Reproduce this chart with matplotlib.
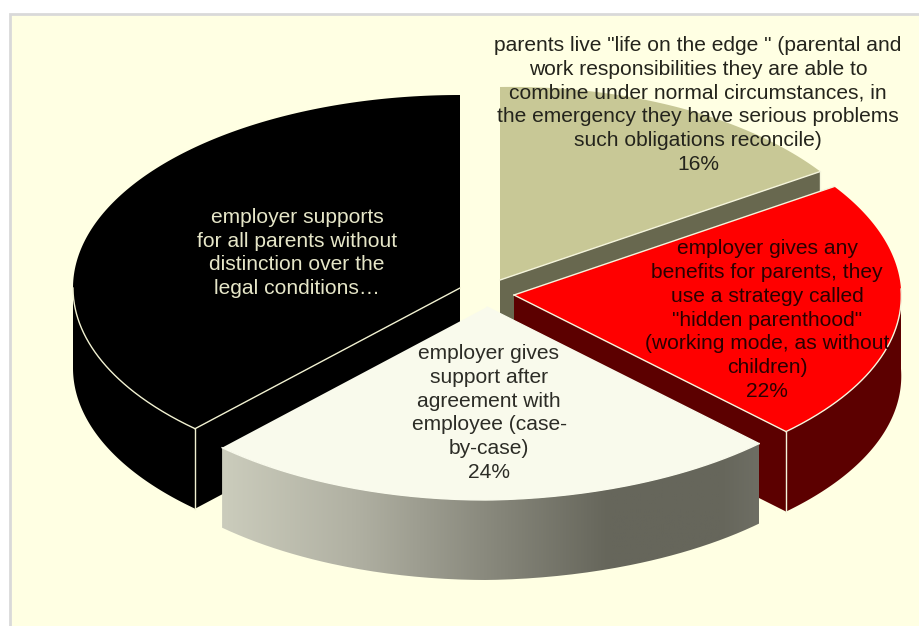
import numpy as np
import matplotlib
matplotlib.use("Agg")
import matplotlib.pyplot as plt
from matplotlib.colors import LinearSegmentedColormap
from matplotlib.patches import PathPatch, Polygon, Rectangle
from matplotlib.path import Path

plt.rcParams["font.family"] = ["Liberation Sans", "DejaVu Sans"]

# survey answers, clockwise from 12 o'clock
labels = [
    'parents live "life on the edge " (parental and\n'
    "work responsibilities they are able to\n"
    "combine under normal circumstances, in\n"
    "the emergency they have serious problems\n"
    "such obligations reconcile)\n16%",
    "employer gives any\nbenefits for parents, they\nuse a strategy called\n"
    '"hidden parenthood"\n(working mode, as without\nchildren)\n22%',
    "employer gives\nsupport after\nagreement with\nemployee (case-\nby-case)\n24%",
    "employer supports\nfor all parents without\ndistinction over the\nlegal conditions\u2026",
]
shares = [16, 22, 24, 38]

top_colors = ["#c8c896", "#ff0000", "#f9faec", "#000000"]
wall_colors = ["#68684f", "#5c0000", None, "#000000"]
edge_colors = ["#f5f5dc", "#f5f5dc", "#f9faec", "#f0f0d0"]
text_colors = ["#24241c", "#2a0000", "#2c2c26", "#e6e6c8"]

# each slice is pulled away from the middle on its own
apex_x = [500, 514, 487, 460]
apex_y = [280, 295, 307, 288]
label_x = [698, 767, 489, 297]
label_y = [105, 320, 413, 253]

RX, RY = 387, 193
DEPTH = 80
# right side of the disc comes slightly towards the viewer
PERSP = 0.037
TILT = 6.0
draw_order = [0, 3, 1, 2]


def rim(cx, cy, deg):
    t = np.radians(np.atleast_1d(deg))
    u, v = np.sin(t), -np.cos(t)
    right = u > 0
    xs = cx + RX * u * np.where(right, 1 + PERSP * v, 1.0)
    ys = cy + RY * v - np.where(right, TILT * u, 0.0)
    return np.column_stack([xs, ys])


def drop(pts):
    return pts + np.array([0, DEPTH])


def gradient_wall(ax, poly, z):
    cmap = LinearSegmentedColormap.from_list(
        "wall",
        [(0.0, "#cbccbc"), (0.25, "#b0b0a2"), (0.5, "#88887c"),
         (0.72, "#66665b"), (0.93, "#66665b"), (1.0, "#6e6e64")],
    )
    x0, x1 = poly[:, 0].min(), poly[:, 0].max()
    y0, y1 = poly[:, 1].min(), poly[:, 1].max()
    im = ax.imshow(np.linspace(0, 1, 256)[None, :], cmap=cmap, extent=(x0, x1, y1, y0),
                   aspect="auto", zorder=z)
    im.set_clip_path(PathPatch(Path(np.vstack([poly, poly[:1]])), transform=ax.transData))


def draw_slice(ax, i, start, end, z):
    cx, cy = apex_x[i], apex_y[i]
    apex = np.array([[cx, cy]], dtype=float)
    arc = rim(cx, cy, np.linspace(start, end, 160))
    edge = edge_colors[i]

    # outer wall, only the part of the rim that faces front
    lo, hi = max(start, 90), min(end, 270)
    front = None
    if hi > lo:
        front = rim(cx, cy, np.linspace(lo, hi, 160))
        poly = np.vstack([front, drop(front)[::-1]])
        if wall_colors[i] is None:
            gradient_wall(ax, poly, z)
        else:
            ax.add_patch(Polygon(poly, closed=True, fc=wall_colors[i], ec="none", zorder=z))

    # flat cut faces
    cuts = []
    if end < 180:
        cuts.append(end)
    if start >= 180:
        cuts.append(start)
    for deg in cuts:
        p = rim(cx, cy, deg)
        poly = np.vstack([apex, p, drop(p), drop(apex)])
        ax.add_patch(Polygon(poly, closed=True, fc=wall_colors[i], ec="none", zorder=z + 0.1))
        ax.plot([p[0, 0]] * 2, [p[0, 1], p[0, 1] + DEPTH], color=edge, lw=1.0, zorder=z + 0.3)

    ax.add_patch(Polygon(np.vstack([apex, arc]), closed=True, fc=top_colors[i], ec="none", zorder=z + 0.2))

    if front is not None:
        ax.plot(front[:, 0], front[:, 1], color=edge, lw=1.0, zorder=z + 0.3)
    if end < 180:
        p = rim(cx, cy, end)[0]
        ax.plot([cx, p[0]], [cy, p[1]], color=edge, lw=1.0, zorder=z + 0.3)
    if start > 0:
        p = rim(cx, cy, start)[0]
        ax.plot([cx, p[0]], [cy, p[1]], color=edge, lw=1.0, zorder=z + 0.3)


fig = plt.figure(figsize=(9.19, 6.26), dpi=100, facecolor="white")
ax = fig.add_axes([0, 0, 1, 1])
ax.axis("off")

ax.add_patch(Rectangle((9.5, 13.5), 930, 630, fc="#ffffe3", ec="#d9d9d9", lw=2, zorder=0))

edges = np.concatenate([[0], np.cumsum(shares)]) / sum(shares) * 360
for n, i in enumerate(draw_order):
    draw_slice(ax, i, edges[i], edges[i + 1], 1 + n)

for i, text in enumerate(labels):
    ax.text(label_x[i], label_y[i], text, ha="center", va="center", ma="center",
            fontsize=15.1, linespacing=1.33, color=text_colors[i], zorder=20)

ax.set_xlim(0, 919)
ax.set_ylim(626, 0)

fig.savefig("out.png", dpi=100)
